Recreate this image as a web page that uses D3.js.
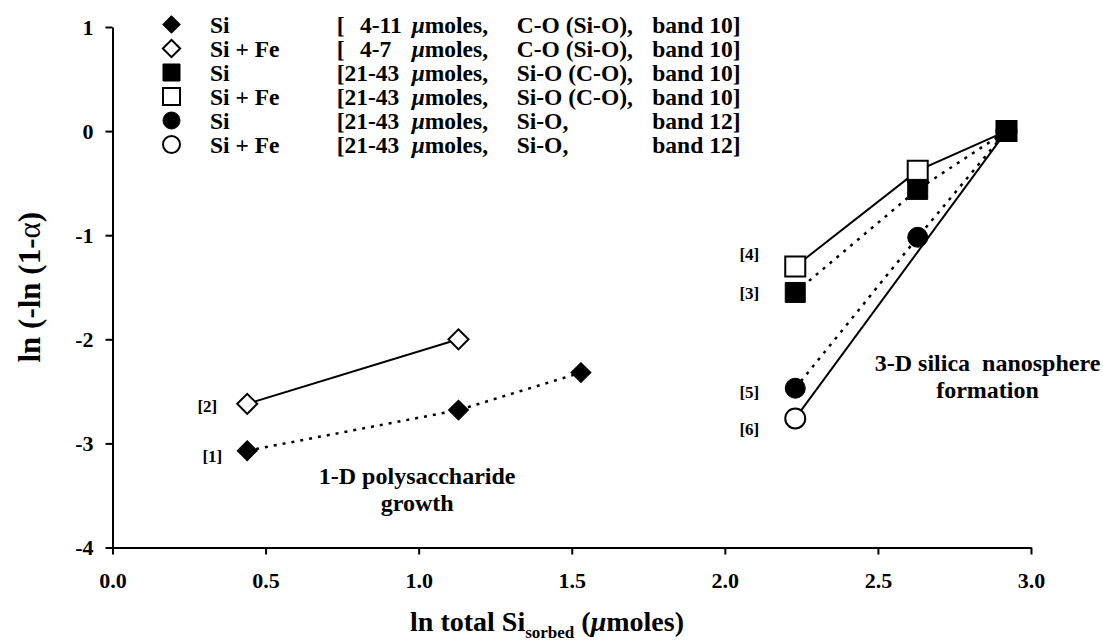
<!DOCTYPE html>
<html>
<head>
<meta charset="utf-8">
<script src="https://cdn.jsdelivr.net/npm/d3@7"></script>
<style>
  body { margin: 0; background: #fff; }
  text { font-family: "Liberation Serif", "Times New Roman", serif; font-weight: bold; fill: #000; }
</style>
</head>
<body>
<script>
// series data
const seriesIds   = [1, 2, 3, 4, 5, 6];
const seriesNames = ["Si", "Si + Fe", "Si", "Si + Fe", "Si", "Si + Fe"];
const amounts     = ["4-11", "4-7", "21-43", "21-43", "21-43", "21-43"];
const bonds       = ["C-O (Si-O),", "C-O (Si-O),", "Si-O (C-O),", "Si-O (C-O),", "Si-O,", "Si-O,"];
const bands       = ["band 10]", "band 10]", "band 10]", "band 10]", "band 12]", "band 12]"];
const shapes      = ["diamond", "diamond", "square", "square", "circle", "circle"];
const filled      = [true, false, true, false, true, false];
const dotted      = [true, false, true, false, true, false];

const xValues = [
  [0.44, 1.13, 1.53],
  [0.44, 1.13],
  [2.23, 2.63, 2.92],
  [2.23, 2.63, 2.92],
  [2.23, 2.63, 2.92],
  [2.23, 2.92]
];
const yValues = [
  [-3.07, -2.68, -2.32],
  [-2.62, -2.00],
  [-1.55, -0.56, 0.0],
  [-1.30, -0.38, 0.0],
  [-2.47, -1.02, 0.0],
  [-2.76, 0.0]
];

const xTicks = [0, 0.5, 1, 1.5, 2, 2.5, 3];
const yTicks = [-4, -3, -2, -1, 0, 1];

// label nudges for the [n] tags (pixels)
const tagDx = [-25, -30, -36, -36, -36, -36];
const tagDy = [5, 2, 1, -12, 4, 11];

const width = 1103, height = 643;

const svg = d3.select("body").append("svg")
    .attr("width", width)
    .attr("height", height);

const x = d3.scaleLinear().domain([0, 3]).range([112.5, 1031]);
const y = d3.scaleLinear().domain([-4, 1]).range([547.5, 27]);

// axes
const xAxis = svg.append("g")
    .attr("transform", `translate(0,${y(-4)})`)
    .call(d3.axisBottom(x).tickValues(xTicks).tickFormat(d3.format(".1f"))
      .tickSize(7).tickSizeOuter(0).tickPadding(18));
const yAxis = svg.append("g")
    .attr("transform", `translate(${x(0)},0)`)
    .call(d3.axisLeft(y).tickValues(yTicks).tickFormat(d => String(d))
      .tickSize(7).tickSizeOuter(0).tickPadding(12));

[xAxis, yAxis].forEach(g => {
  g.select(".domain").attr("stroke", "#000").attr("stroke-width", 2);
  g.selectAll(".tick line").attr("stroke", "#000").attr("stroke-width", 2);
  g.selectAll(".tick text").attr("font-size", 22).attr("font-family", null);
});

// axis titles
const xt = svg.append("text")
    .attr("x", 547)
    .attr("y", 631)
    .attr("text-anchor", "middle")
    .attr("font-size", 28);
xt.append("tspan").text("ln total Si");
xt.append("tspan").attr("font-size", 17).attr("dy", 7).text("sorbed");
xt.append("tspan").attr("dy", -7).text(" (");
xt.append("tspan").attr("font-style", "italic").text("\u03bc");
xt.append("tspan").text("moles)");

const yt = svg.append("text")
    .attr("transform", `translate(40,${(y(1) + y(-4)) / 2}) rotate(-90)`)
    .attr("text-anchor", "middle")
    .attr("font-size", 31);
yt.append("tspan").text("ln (-ln (1-");
yt.append("tspan").attr("font-weight", "normal").text("\u03b1");
yt.append("tspan").text(")");

// build series
const series = seriesIds.map((id, i) => ({
  id, i,
  shape: shapes[i], filled: filled[i], dotted: dotted[i],
  points: xValues[i].map((xv, j) => ({x: xv, y: yValues[i][j]}))
}));

const line = d3.line().x(d => x(d.x)).y(d => y(d.y));

svg.append("g")
  .selectAll("path")
  .data(series)
  .join("path")
    .attr("d", d => line(d.points))
    .attr("fill", "none")
    .attr("stroke", "#000")
    .attr("stroke-width", d => d.dotted ? 2.5 : 2)
    .attr("stroke-dasharray", d => d.dotted ? "3,6" : null);

function symbolPath(shape, big) {
  if (shape === "diamond") return d3.symbol(d3.symbolSquare, big ? 200 : 150)();
  if (shape === "square") return d3.symbol(d3.symbolSquare, big ? 400 : 290)();
  return d3.symbol(d3.symbolCircle, big ? 314 : 227)();
}

// markers: open first, then filled on top
const order = series.slice().sort((a, b) => d3.ascending(a.filled, b.filled));
const marks = svg.append("g");
order.forEach(s => {
  marks.selectAll(null)
    .data(s.points)
    .join("path")
      .attr("d", symbolPath(s.shape, true))
      .attr("transform", d => `translate(${x(d.x)},${y(d.y)})` + (s.shape === "diamond" ? " rotate(45)" : ""))
      .attr("fill", s.filled ? "#000" : "#fff")
      .attr("stroke", "#000")
      .attr("stroke-width", s.filled ? 1 : 2);
});

// [n] tags
svg.append("g")
  .selectAll("text")
  .data(series)
  .join("text")
    .attr("x", d => x(d.points[0].x) + tagDx[d.i])
    .attr("y", d => y(d.points[0].y) + tagDy[d.i])
    .attr("dy", "0.35em")
    .attr("text-anchor", "end")
    .attr("font-size", 17)
    .text(d => `[${d.id}]`);

// annotations
const ann1 = svg.append("text").attr("text-anchor", "middle").attr("font-size", 24);
ann1.append("tspan").attr("x", x(0.995)).attr("y", y(-3.39)).text("1-D polysaccharide");
ann1.append("tspan").attr("x", x(0.995)).attr("dy", 27).text("growth");

const ann2 = svg.append("text").attr("text-anchor", "middle").attr("font-size", 24)
    .style("white-space", "pre");
ann2.append("tspan").attr("x", x(2.858)).attr("y", y(-2.30)).text("3-D silica  nanosphere");
ann2.append("tspan").attr("x", x(2.858)).attr("dy", 27).text("formation");

// legend
const legend = svg.append("g").attr("font-size", 23.5);
const rows = legend.selectAll("g")
  .data(series)
  .join("g")
    .attr("transform", d => `translate(0,${24.5 + d.i * 24})`);

rows.append("path")
    .attr("d", d => symbolPath(d.shape, false))
    .attr("transform", d => "translate(171.5,0)" + (d.shape === "diamond" ? " rotate(45)" : ""))
    .attr("fill", d => d.filled ? "#000" : "#fff")
    .attr("stroke", "#000")
    .attr("stroke-width", d => d.filled ? 1 : 2);

rows.append("text").attr("x", 210).attr("y", 8.5).text(d => seriesNames[d.i]);
rows.append("text").attr("x", 336.7).attr("y", 8.5).text("[");
rows.append("text").attr("x", d => amounts[d.i].length < 5 ? 360 : 344.5).attr("y", 8.5)
    .text(d => amounts[d.i]);
const mu = rows.append("text").attr("x", 411.7).attr("y", 8.5);
mu.append("tspan").attr("font-style", "italic").text("\u03bc");
mu.append("tspan").text("moles,");
rows.append("text").attr("x", 516.7).attr("y", 8.5).text(d => bonds[d.i]);
rows.append("text").attr("x", 652.3).attr("y", 8.5).text(d => bands[d.i]);
</script>
</body>
</html>
